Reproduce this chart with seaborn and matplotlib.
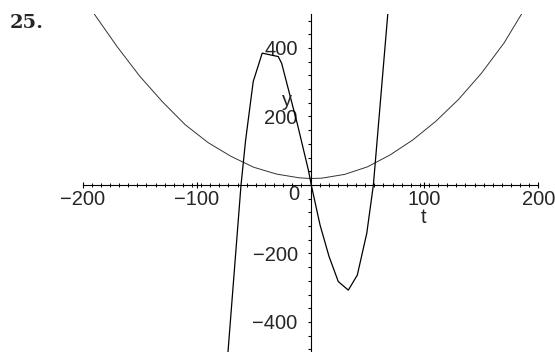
import numpy as np
import pandas as pd
import matplotlib
matplotlib.use('Agg')
import matplotlib.pyplot as plt
from matplotlib.ticker import MultipleLocator, FixedLocator
import seaborn as sns

# Polyline vertices of the steep curve
t_cubic = [-80, -72.5, -61, -57, -50.3, -42.4, -28.3, -25.3, -11.3, -1.9, 1,
           8.4, 16.3, 24.4, 33.2, 41.1, 49.4, 55.2, 67.9, 75]
y_cubic = [-850, -490, 0, 130, 302, 385, 375, 355, 175, 44, -5,
           -117, -209, -282, -307, -263, -141, 0, 501, 760]

# The wide parabola
t_parab = [-190, -170, -150, -130, -110, -90, -70, -50, -30, -10, 0,
           10, 30, 50, 70, 90, 110, 130, 150, 170, 190]
y_parab = [500, 405, 318, 243, 176, 124, 84, 52, 32, 21, 19,
           20, 31, 53, 88, 132, 186, 250, 326, 415, 525]

x_ticks = [-200, -100, 100, 200]
y_ticks = [-400, -200, 200, 400]

sns.set_style('white')
plt.rcParams['font.family'] = ['Liberation Sans', 'DejaVu Sans']

cubic = pd.DataFrame({'t': t_cubic, 'y': y_cubic})
parab = pd.DataFrame({'t': t_parab, 'y': y_parab})

fig = plt.figure(figsize=(5.55, 3.52), dpi=100)
ax = fig.add_axes([82.7 / 555, 0, (538.3 - 82.7) / 555, (352 - 13.75) / 352])

sns.lineplot(data=parab, x='t', y='y', sort=False, estimator=None,
             color='#333333', linewidth=0.7, ax=ax)
sns.lineplot(data=cubic, x='t', y='y', sort=False, estimator=None,
             color='black', linewidth=0.9, ax=ax)

ax.set_xlim(-200, 200)
ax.set_ylim(-487.6, 500)

# axes through the origin, Maple style
for side in ['top', 'right']:
    ax.spines[side].set_visible(False)
ax.spines['bottom'].set_position(('data', 0))
ax.spines['left'].set_position(('data', 0))
for side in ['bottom', 'left']:
    ax.spines[side].set_color('black')
    ax.spines[side].set_linewidth(0.8)

ax.xaxis.set_major_locator(FixedLocator(x_ticks))
ax.xaxis.set_minor_locator(MultipleLocator(8))
ax.yaxis.set_major_locator(FixedLocator(y_ticks))
ax.yaxis.set_minor_locator(MultipleLocator(40))
ax.set_xticklabels([str(v).replace('-', '\u2212') for v in x_ticks])
ax.set_yticklabels([str(v).replace('-', '\u2212') for v in y_ticks])

ax.tick_params(axis='x', which='both', bottom=True, top=False)
ax.tick_params(axis='y', which='both', left=True, right=False)
ax.tick_params(axis='x', which='major', direction='inout', length=4, width=0.8,
               labelsize=14.5, pad=1.5, color='black')
ax.tick_params(axis='x', which='minor', direction='inout', length=2.5, width=0.7,
               color='black')
ax.tick_params(axis='y', which='both', direction='out', length=2.2, width=0.8,
               labelsize=14.5, pad=7, color='black')

ax.set_xlabel('')
ax.set_ylabel('')
ax.text(-14.5, -27.7, '0', ha='center', va='center', fontsize=14.5)
ax.text(99.2, -95, 't', ha='center', va='center', fontsize=14.5)
ax.text(-20.9, 248, 'y', ha='center', va='center', fontsize=14.5)

fig.text(10 / 555, 1 - 23 / 352, '25.', ha='left', va='center',
         fontsize=14, fontweight='bold', family='DejaVu Serif')

fig.savefig('out.png', dpi=100)
